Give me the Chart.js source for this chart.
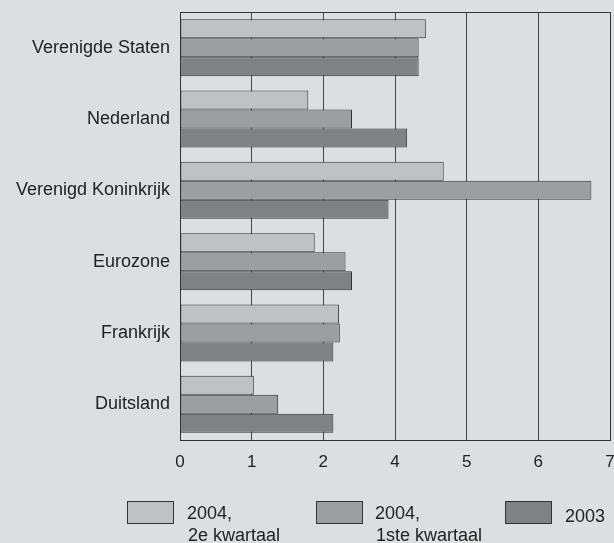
<!DOCTYPE html>
<html>
<head>
<meta charset="utf-8">
<script src="https://cdn.jsdelivr.net/npm/chart.js@4.4.1/dist/chart.umd.min.js"></script>
<style>
  html, body { margin: 0; padding: 0; background: #dddee0; }
  #wrap { width: 614px; height: 543px; }
</style>
</head>
<body>
<div id="wrap"><canvas id="barChart" width="614" height="543"></canvas></div>
<script>
// data (x in gridline units, labels as printed)
const countries = ['Verenigde Staten', 'Nederland', 'Verenigd Koninkrijk', 'Eurozone', 'Frankrijk', 'Duitsland'];
const q2_2004 = [3.43, 1.79, 3.68, 1.88, 2.22, 1.03];
const q1_2004 = [3.33, 2.40, 5.74, 2.31, 2.23, 1.37];
const y2003   = [3.33, 3.17, 2.91, 2.40, 2.14, 2.14];
const tickLabels = ['0', '1', '2', '4', '5', '6', '7'];
const seriesNames = [['2004,', '2e kwartaal'], ['2004,', '1ste kwartaal'], ['2003']];

const FONT = "'Liberation Sans', Arial, sans-serif";

// frame round the plot + legend at the bottom
const framePlugin = {
  id: 'frame',
  afterDraw(chart) {
    const ctx = chart.ctx, a = chart.chartArea;
    ctx.save();
    ctx.strokeStyle = '#333';
    ctx.lineWidth = 1;
    ctx.strokeRect(a.left + 0.5, a.top + 0.5, a.right - a.left, a.bottom - a.top);

    const boxX = [127, 316, 505];
    const textX = [187, 375, 565];
    ctx.font = '18px ' + FONT;
    ctx.textBaseline = 'middle';
    ctx.textAlign = 'left';
    chart.data.datasets.forEach((ds, i) => {
      ctx.fillStyle = ds.backgroundColor;
      ctx.fillRect(boxX[i], 501, 46, 22);
      ctx.strokeStyle = '#333';
      ctx.strokeRect(boxX[i] + 0.5, 501.5, 46, 22);
      ctx.fillStyle = '#222';
      const lines = seriesNames[i];
      if (lines.length === 1) {
        ctx.fillText(lines[0], textX[i], 517);
      } else {
        lines.forEach((t, k) => ctx.fillText(t, textX[i] + (k ? 1 : 0), 514 + k * 22));
      }
    });
    ctx.restore();
  }
};

new Chart(document.getElementById('barChart').getContext('2d'), {
  type: 'bar',
  data: {
    labels: countries,
    datasets: [
      { label: '2004, 2e kwartaal', data: q2_2004, backgroundColor: '#c0c1c3' },
      { label: '2004, 1ste kwartaal', data: q1_2004, backgroundColor: '#9c9fa2' },
      { label: '2003', data: y2003, backgroundColor: '#808183' }
    ].map(d => Object.assign(d, { borderColor: '#333', borderWidth: 1, borderSkipped: false }))
  },
  options: {
    indexAxis: 'y',
    responsive: false,
    animation: false,
    categoryPercentage: 0.8,
    barPercentage: 1.0,
    layout: { padding: { top: 12, right: 4, left: 0, bottom: 0 } },
    plugins: {
      legend: { display: false },
      tooltip: { enabled: false }
    },
    scales: {
      x: {
        min: 0,
        max: 6,
        afterFit: s => { s.height = 103; s.paddingLeft = 0; s.paddingRight = 0; },
        ticks: {
          stepSize: 1,
          padding: 12,
          color: '#222',
          font: { family: FONT, size: 17 },
          callback: (v) => tickLabels[v]
        },
        grid: { color: '#444', lineWidth: 1, drawTicks: false },
        border: { color: '#333', width: 1 }
      },
      y: {
        afterFit: s => { s.width = 180; s.paddingTop = 0; s.paddingBottom = 0; },
        ticks: {
          padding: 10,
          color: '#222',
          font: { family: FONT, size: 18 }
        },
        grid: { display: false, drawTicks: false },
        border: { color: '#333', width: 1 }
      }
    }
  },
  plugins: [framePlugin]
});
</script>
</body>
</html>
